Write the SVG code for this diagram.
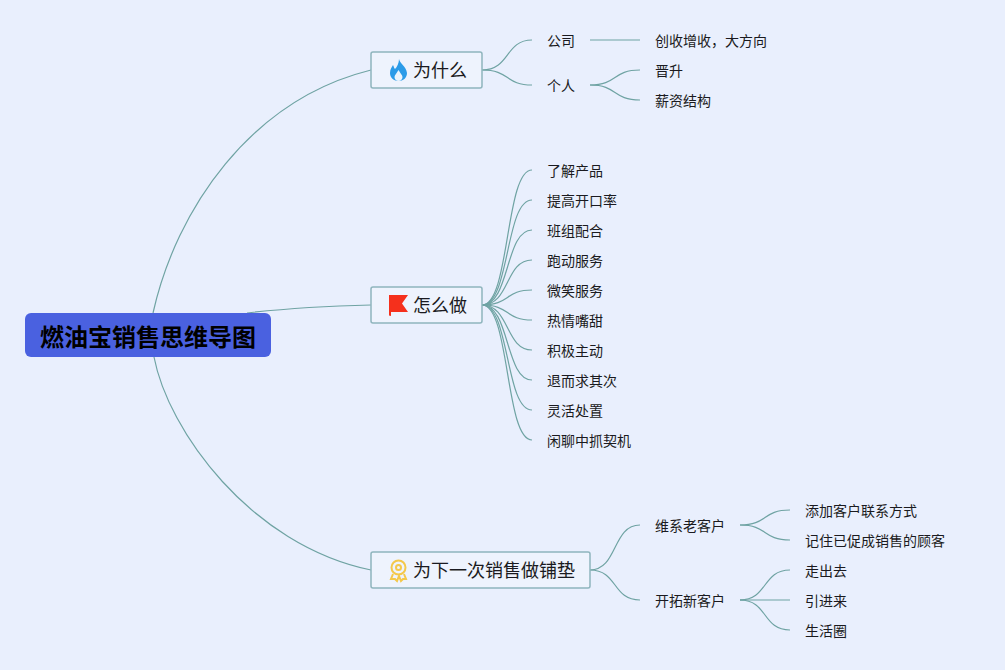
<svg xmlns="http://www.w3.org/2000/svg" width="1005" height="670" viewBox="0 0 1005 670">
<style>
text{font-family:"Noto Sans CJK SC","Noto Sans",sans-serif;fill:#1a1a20}
.t{font-size:14px}
.m{font-size:18px}
.box{fill:#eef3fd;stroke:#8fb5bd;stroke-width:1.5}
#connectors path{fill:none;stroke:#6fa3a3;stroke-width:1.2}
</style>
<rect width="1005" height="670" fill="#e9effd"/>
<g id="connectors">
<path d="M153 313C176 210 250 100 371 70"/>
<path d="M247 313C290 308 330 306 371 305"/>
<path d="M154 357C168 430 250 545 371 570"/>
<path d="M482 70C510 70 505 40 532 40"/>
<path d="M482 70C510 70 505 85 532 85"/>
<path d="M590 40H640"/>
<path d="M590 85C618 85 612 70 640 70"/>
<path d="M590 85C618 85 612 100 640 100"/>
<path d="M482 305C510 305 505 170 532 170"/>
<path d="M482 305C510 305 505 200 532 200"/>
<path d="M482 305C510 305 505 230 532 230"/>
<path d="M482 305C510 305 505 260 532 260"/>
<path d="M482 305C510 305 505 290 532 290"/>
<path d="M482 305C510 305 505 320 532 320"/>
<path d="M482 305C510 305 505 350 532 350"/>
<path d="M482 305C510 305 505 380 532 380"/>
<path d="M482 305C510 305 505 410 532 410"/>
<path d="M482 305C510 305 505 440 532 440"/>
<path d="M590 570C618 570 612 525 640 525"/>
<path d="M590 570C618 570 612 600 640 600"/>
<path d="M740 525C768 525 762 510 790 510"/>
<path d="M740 525C768 525 762 540 790 540"/>
<path d="M740 600C768 600 762 570 790 570"/>
<path d="M740 600H790"/>
<path d="M740 600C768 600 762 630 790 630"/>
</g>
<g id="root">
<rect x="25" y="313" width="246" height="44" rx="6" fill="#4a61e0"/>
<text x="148" y="346" text-anchor="middle" font-size="24" font-weight="700" style="fill:#000">燃油宝销售思维导图</text>
</g>
<g id="n-why">
<rect class="box" x="371" y="52" width="111" height="36" rx="2"/>
<path d="M399 59C400 64 406 66 407 73C407 78 403 81 398.500 81C393 81 390 77 390 73C390 69 392 67 393 65C394 67 394 68 395 69C397 67 399 63 399 59Z" fill="#2b9be8"/>
<path d="M398.500 81C396 81 394.500 79 394.500 77C394.500 75 397 73 398.500 70C400 73 402.500 75 402.500 77C402.500 79 401 81 398.500 81Z" fill="#eaf4fd"/>
<text class="m" x="413" y="77">为什么</text>
</g>
<g id="n-how">
<rect class="box" x="371" y="287" width="111" height="36" rx="2"/>
<path d="M389 295H408L402 303.500L408 312H391V316L389 315.500Z" fill="#f5301c"/>
<text class="m" x="413" y="312">怎么做</text>
</g>
<g id="n-next">
<rect class="box" x="371" y="552" width="219" height="36" rx="2"/>
<g fill="none" stroke="#f4c84a" stroke-width="2">
<circle cx="398.500" cy="567.500" r="7"/>
<circle cx="398.500" cy="567.500" r="2.500"/>
<path d="M393 574L391 579L395 579L397 581L399 576L401 581L403 579L406 579L404 574"/>
</g>
<text class="m" x="413" y="577">为下一次销售做铺垫</text>
</g>
<g id="l-company"><text class="t" x="547" y="46">公司</text></g>
<g id="l-person"><text class="t" x="547" y="91">个人</text></g>
<g id="l-c1"><text class="t" x="655" y="46">创收增收，大方向</text></g>
<g id="l-p1"><text class="t" x="655" y="76">晋升</text></g>
<g id="l-p2"><text class="t" x="655" y="106">薪资结构</text></g>
<g id="l-h1"><text class="t" x="547" y="176">了解产品</text></g>
<g id="l-h2"><text class="t" x="547" y="206">提高开口率</text></g>
<g id="l-h3"><text class="t" x="547" y="236">班组配合</text></g>
<g id="l-h4"><text class="t" x="547" y="266">跑动服务</text></g>
<g id="l-h5"><text class="t" x="547" y="296">微笑服务</text></g>
<g id="l-h6"><text class="t" x="547" y="326">热情嘴甜</text></g>
<g id="l-h7"><text class="t" x="547" y="356">积极主动</text></g>
<g id="l-h8"><text class="t" x="547" y="386">退而求其次</text></g>
<g id="l-h9"><text class="t" x="547" y="416">灵活处置</text></g>
<g id="l-h10"><text class="t" x="547" y="446">闲聊中抓契机</text></g>
<g id="l-old"><text class="t" x="655" y="531">维系老客户</text></g>
<g id="l-new"><text class="t" x="655" y="606">开拓新客户</text></g>
<g id="l-o1"><text class="t" x="805" y="516">添加客户联系方式</text></g>
<g id="l-o2"><text class="t" x="805" y="546">记住已促成销售的顾客</text></g>
<g id="l-n1"><text class="t" x="805" y="576">走出去</text></g>
<g id="l-n2"><text class="t" x="805" y="606">引进来</text></g>
<g id="l-n3"><text class="t" x="805" y="636">生活圈</text></g>
</svg>
